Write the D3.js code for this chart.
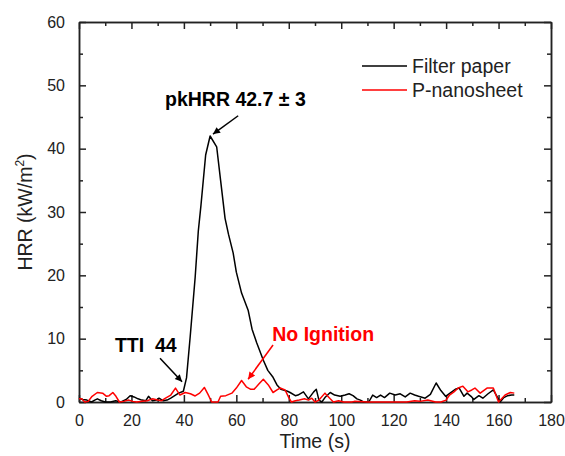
<!DOCTYPE html>
<html>
<head>
    <title>HRR</title>
    <script src="https://d3js.org/d3.v7.min.js"></script>
    <style>
        body { margin: 0; background: #fff; }
        text { font-family: "Liberation Sans", Arial, sans-serif; fill: #222; }
    </style>
</head>
<body>
<div id="chart"></div>
<script>
    // DATA
    var filterTime = [0, 1.5, 3, 4.8, 6, 7, 8.5, 10, 12, 14, 16, 18, 19.5, 21, 22.5, 24, 25.5, 26.5, 28, 29.5,
        30.5, 32, 33.6, 35, 36.5, 38, 39.8, 41, 42.4, 44.3, 45.5, 46.5, 48.3, 50, 52.5, 54, 55.7, 57, 58.8, 60,
        62, 64.5, 66, 67.8, 70.3, 72, 74, 75.5, 77, 79.5, 80.5, 82.5, 83.5, 85.6, 87.5, 89.5, 90.5, 91.5, 92.6, 94,
        95.8, 97.5, 99.6, 101.5, 103, 104.5, 106, 107.3, 108.5, 110.5, 112, 113.5, 115, 116.5, 118.5, 120.6, 122.5, 124.4, 126.3, 128,
        129.5, 132, 134, 136.2, 138, 139.8, 141.5, 143.5, 145, 146.8, 148, 149.5, 150.6, 152.5, 154, 156, 158, 159.5, 160.6, 162,
        163.5, 165, 166]
    var filterHRR = [0.6, 0.4, 0.3, 0, 0.3, 0.5, 0.2, 0, 0, 0.2, 0, 0.4, 1.0, 0.8, 0.5, 0.3, 0.2, 0.9, 0.2, 0.3,
        0.6, 0.2, 0.3, 0.6, 1.0, 1.4, 1.7, 3.8, 10.3, 19.7, 27, 31, 39, 42, 40.3, 35, 29, 26.5, 23.5, 20.5,
        17.2, 14.5, 11.5, 9.3, 6.6, 5, 3.9, 2.7, 2.0, 1.7, 1.5, 1.0, 1.1, 1.6, 0.5, 1.6, 2.0, 0.3, 0, 0.8,
        1.5, 1.1, 0.9, 1.1, 1.3, 1.0, 0.5, 0.3, 0, 0, 1.1, 0.7, 1.1, 0.7, 1.4, 1.1, 1.3, 0.8, 1.4, 1.1,
        0.9, 0.6, 1.2, 3.0, 1.8, 0.9, 1.4, 2.0, 2.2, 0.9, 1.4, 0.9, 0.4, 1.0, 0.6, 1.3, 1.9, 0.8, 0, 0.7,
        1.0, 1.1, 1.1]

    var nanoTime = [0, 1, 2.2, 3.5, 5, 7, 9, 10.5, 11.5, 12.9, 14.1, 15.4, 17, 19, 20.5, 22, 24, 26, 28, 30,
        31.5, 33, 35, 36.8, 38.5, 40.5, 42.5, 44.3, 46, 47.8, 49.2, 50.6, 53, 54, 56, 58.3, 60, 62, 63.8, 65.5,
        66.8, 68.5, 70.3, 72.2, 74, 75.5, 76.7, 78.6, 80, 81, 82.5, 84, 86, 87.5, 88.8, 90, 91.5, 93.8, 95.8, 97,
        99, 101, 104, 105, 110, 115, 120, 125, 128, 130, 133, 136, 138, 140, 141.3, 143, 144.6, 146.4, 148.3, 149.8,
        151, 153, 155.6, 158, 160, 162.5, 164.5, 166]
    var nanoHRR = [0.5, 0.5, 0, 0.1, 0.9, 1.5, 1.4, 0.9, 1.0, 1.5, 0.9, 0, 0.1, 0.3, 0.1, 0, 0.1, 0.2, 0.5, 0.3,
        0.2, 0.6, 1.1, 2.2, 1.1, 1.5, 1.3, 0.95, 1.4, 2.3, 1.2, 0, 0, 0.9, 1.0, 1.4, 2.2, 3.4, 2.4, 2.0,
        2.0, 2.8, 3.6, 2.7, 1.5, 1.9, 2.2, 1.9, 0.7, 0, 0.2, 0.3, 0.5, 0.3, 0.6, 0, 0.3, 1.4, 0.5, 0,
        0.2, 0, 0, 0.1, 0, 0, 0, 0, 0.2, 0.1, 0.3, 0, 0, 0.3, 1.1, 1.6, 2.2, 2.5, 1.6, 1.9,
        2.2, 1.4, 2.2, 2.2, 0, 1.1, 1.5, 1.4]

    var seriesNames = ['Filter paper', 'P-nanosheet']
    var seriesColors = ['#000000', '#ff0000']
    var xTicks = [0, 20, 40, 60, 80, 100, 120, 140, 160, 180]
    var yTicks = [0, 10, 20, 30, 40, 50, 60]

    // annotations: [text, textX, textY, arrowFromX, arrowFromY, arrowToX, arrowToY, colour] in data units
    var notes = [
        ['pkHRR 42.7 \u00b1 3', 32.8, 46.7, 60.7, 45.2, 51.1, 42.3, '#000000'],
        ['TTI  44', 13.7, 7.9, 30.9, 6.9, 39.3, 3.2, '#000000'],
        ['No Ignition', 73.7, 9.6, 74, 9.0, 64.5, 3.6, '#ff0000']
    ]

    // SETUP
    var width = 565, height = 456
    var margin = { top: 22, right: 14, bottom: 54, left: 79 }
    var w = width - margin.left - margin.right
    var h = height - margin.top - margin.bottom

    var svg = d3.select('#chart').append('svg')
        .attr('width', width)
        .attr('height', height)

    var defs = svg.append('defs')
    seriesColors.forEach(function (c, i) {
        defs.append('marker')
            .attr('id', 'arrow' + i)
            .attr('viewBox', '0 0 10 10')
            .attr('refX', 10).attr('refY', 5)
            .attr('markerWidth', 9).attr('markerHeight', 7)
            .attr('markerUnits', 'userSpaceOnUse')
            .attr('orient', 'auto')
            .append('path')
            .attr('d', 'M0,0L10,5L0,10z')
            .attr('fill', c)
    })

    var g = svg.append('g').attr('transform', 'translate(' + margin.left + ',' + margin.top + ')')

    var x = d3.scaleLinear().domain([0, 180]).range([0, w])
    var y = d3.scaleLinear().domain([0, 60]).range([h, 0])

    // AXES (ticks point inward, minor ticks between majors)
    var xMinor = d3.range(10, 180, 20)
    var yMinor = d3.range(5, 60, 10)

    function styleAxis(sel) {
        sel.selectAll('path').attr('stroke', '#222').attr('stroke-width', 1.5)
        sel.selectAll('line').attr('stroke', '#222').attr('stroke-width', 1.5)
        sel.selectAll('text').style('font-size', '16px').attr('fill', '#222')
    }

    var xb = g.append('g').attr('transform', 'translate(0,' + h + ')')
        .call(d3.axisBottom(x).tickValues(xTicks).tickSizeInner(-7).tickSizeOuter(0).tickPadding(13))
    xb.call(styleAxis)
    g.append('g').attr('transform', 'translate(0,' + h + ')')
        .call(d3.axisBottom(x).tickValues(xMinor).tickSizeInner(-4).tickSizeOuter(0).tickFormat(''))
        .call(styleAxis)
    g.append('g')
        .call(d3.axisTop(x).tickValues(xTicks).tickSizeInner(-7).tickSizeOuter(0).tickFormat(''))
        .call(styleAxis)
    g.append('g')
        .call(d3.axisTop(x).tickValues(xMinor).tickSizeInner(-4).tickSizeOuter(0).tickFormat(''))
        .call(styleAxis)

    g.append('g')
        .call(d3.axisLeft(y).tickValues(yTicks).tickSizeInner(-7).tickSizeOuter(0).tickPadding(14))
        .call(styleAxis)
    g.append('g')
        .call(d3.axisLeft(y).tickValues(yMinor).tickSizeInner(-4).tickSizeOuter(0).tickFormat(''))
        .call(styleAxis)
    g.append('g').attr('transform', 'translate(' + w + ',0)')
        .call(d3.axisRight(y).tickValues(yTicks).tickSizeInner(-7).tickSizeOuter(0).tickFormat(''))
        .call(styleAxis)
    g.append('g').attr('transform', 'translate(' + w + ',0)')
        .call(d3.axisRight(y).tickValues(yMinor).tickSizeInner(-4).tickSizeOuter(0).tickFormat(''))
        .call(styleAxis)

    // axis titles
    g.append('text')
        .attr('x', w / 2).attr('y', h + 46)
        .attr('text-anchor', 'middle')
        .style('font-size', '19.5px')
        .text('Time (s)')

    var yt = g.append('text')
        .attr('transform', 'translate(' + (-47) + ',' + (h / 2) + ') rotate(-90)')
        .attr('text-anchor', 'middle')
        .style('font-size', '19.5px')
    yt.append('tspan').text('HRR (kW/m')
    yt.append('tspan').attr('dy', -8).style('font-size', '12px').text('2')
    yt.append('tspan').attr('dy', 8).text(')')

    // LINES
    var line = d3.line()
        .x(function (d) { return x(d[0]) })
        .y(function (d) { return y(d[1]) })

    var filterData = d3.zip(filterTime, filterHRR)
    var nanoData = d3.zip(nanoTime, nanoHRR)

    g.append('path').datum(filterData)
        .attr('d', line)
        .attr('fill', 'none')
        .attr('stroke', seriesColors[0])
        .attr('stroke-width', 1.5)
        .attr('stroke-linejoin', 'round')

    g.append('path').datum(nanoData)
        .attr('d', line)
        .attr('fill', 'none')
        .attr('stroke', seriesColors[1])
        .attr('stroke-width', 1.5)
        .attr('stroke-linejoin', 'round')

    // LEGEND
    var legend = g.append('g').attr('transform', 'translate(283,44)')
    seriesNames.forEach(function (name, i) {
        var row = legend.append('g').attr('transform', 'translate(0,' + (i * 24) + ')')
        row.append('line')
            .attr('x1', 0).attr('x2', 45).attr('y1', 0).attr('y2', 0)
            .attr('stroke', seriesColors[i]).attr('stroke-width', 1.5)
        row.append('text')
            .attr('x', 50).attr('y', 7)
            .style('font-size', '19.5px')
            .text(name)
    })

    // ANNOTATIONS
    notes.forEach(function (n) {
        g.append('text')
            .attr('x', x(n[1])).attr('y', y(n[2]))
            .style('font-size', '19.5px')
            .style('font-weight', 'bold')
            .style('white-space', 'pre')
            .style('fill', n[7])
            .text(n[0])
        g.append('line')
            .attr('x1', x(n[3])).attr('y1', y(n[4]))
            .attr('x2', x(n[5])).attr('y2', y(n[6]))
            .attr('stroke', n[7]).attr('stroke-width', 1.5)
            .attr('marker-end', 'url(#arrow' + (n[7] == '#ff0000' ? 1 : 0) + ')')
    })
</script>
</body>
</html>
